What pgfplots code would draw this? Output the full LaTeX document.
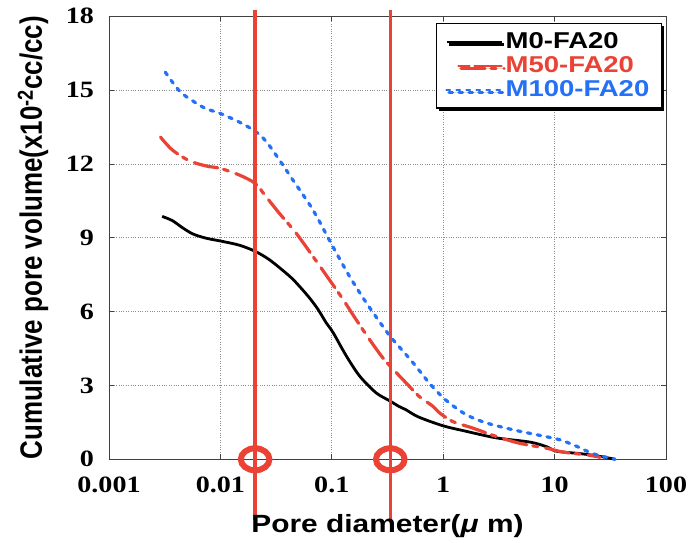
\documentclass[border=0pt]{standalone}
\usepackage{fontspec}
\setmainfont[FakeStretch=1.2]{Liberation Serif}
\newfontfamily\lsans[FakeStretch=1.2]{Liberation Sans}
\newfontfamily\lsansy[FakeStretch=0.84]{Liberation Sans}
\usepackage{pgfplots}
\pgfplotsset{compat=1.18}
\usepackage{pgfplotstable}
\usetikzlibrary{shadows}

\definecolor{cred}{RGB}{234,66,52}
\definecolor{cblue}{RGB}{36,112,246}

% pore diameter (um) vs cumulative pore volume (x10^-2 cc/cc)
\pgfplotstableread{
d v
0.0030 9.87
0.0037 9.70
0.0046 9.40
0.0057 9.15
0.0075 8.98
0.010 8.87
0.0148 8.70
0.0205 8.45
0.0277 8.10
0.0418 7.44
0.051 7.04
0.063 6.56
0.075 6.10
0.089 5.55
0.103 5.14
0.135 4.20
0.178 3.38
0.25 2.70
0.333 2.37
0.40 2.15
0.46 2.02
0.60 1.72
1.0 1.36
1.6 1.14
3.0 0.87
6.0 0.70
8.5 0.51
10.4 0.33
17 0.23
24 0.14
35 0.0
}\mzero

\pgfplotstableread{
d v
0.0029 13.09
0.0037 12.57
0.0052 12.14
0.0074 11.92
0.010 11.82
0.0148 11.55
0.0205 11.21
0.0257 10.67
0.0339 9.99
0.048 9.18
0.0698 8.16
0.095 7.30
0.126 6.50
0.165 5.68
0.218 4.87
0.286 4.13
0.333 3.79
0.463 3.11
0.607 2.56
0.80 2.17
0.92 1.90
1.21 1.54
1.84 1.27
2.99 0.93
4.86 0.65
8.47 0.45
12 0.29
19.5 0.18
25.7 0.08
}\mfifty

\pgfplotstableread{
d v
0.0032 15.73
0.0043 14.96
0.0057 14.55
0.0074 14.25
0.010 14.05
0.0148 13.70
0.0205 13.33
0.0257 12.92
0.0339 12.16
0.0447 11.35
0.0676 10.14
0.102 8.65
0.144 7.44
0.204 6.36
0.286 5.41
0.333 5.00
0.53 3.95
0.75 3.10
1.06 2.40
1.6 1.82
2.43 1.48
4.23 1.20
6.87 1.00
11.2 0.79
15.9 0.52
22.4 0.22
35 0.0
}\mhundred

\begin{document}
\begin{tikzpicture}
\begin{axis}[
  scale only axis, width=557bp, height=443bp,
  xmode=log, xmin=0.001, xmax=100, ymin=0, ymax=18,
  xtick={0.001,0.01,0.1,1,10,100},
  xticklabels={0.001,0.01,0.1,1,10,100},
  ytick={0,3,6,9,12,15,18},
  yticklabels={0,3,6,9,12,15,18},
  xminorticks=false,
  tick align=inside, major tick length=5bp,
  axis line style={black!75, line width=0.8bp},
  tick style={black!75, line width=0.8bp},
  grid=major, grid style={dotted, black!45, line width=0.9bp},
  tick label style={font=\bfseries\fontsize{23.5}{23.5}\selectfont},
  xticklabel style={anchor=base, yshift=-33bp},
  yticklabel style={anchor=east, xshift=-11.5bp},
  xlabel={Pore diameter(\textit{μ} m)},
  ylabel={Cumulative pore volume(x10\textsuperscript{-2}cc/cc)},
  xlabel style={font=\lsans\bfseries\fontsize{25}{25}\selectfont, at={(axis description cs:0.5,-0.1648)}, anchor=base},
  ylabel style={font=\lsansy\bfseries\fontsize{31}{31}\selectfont, at={(axis description cs:-0.1203,0.5)}, anchor=base},
  clip=false,
  legend cell align=left,
  legend image code/.code={\draw[#1, line width=2.3bp] (0bp,0bp) -- (55bp,0bp);},
  legend style={at={(0.9928,0.985)}, anchor=north east, draw=black, line width=1.3bp,
    font=\lsans\bfseries\fontsize{23}{23}\selectfont, inner xsep=9bp, inner ysep=7bp,
    row sep=1.5bp, column sep=0bp,
    nodes={inner xsep=3bp, inner ysep=0.5bp, text height=17bp, text depth=4.5bp},
    drop shadow={shadow xshift=2.5bp, shadow yshift=-2.5bp, fill=black, opacity=1}},
]
\addplot[black, line width=2.8bp, smooth, tension=0.5] table[x=d, y=v] {\mzero};
\addlegendentry{M0-FA20}
\addplot[cred, line width=3.2bp, line cap=round, dash pattern=on 24bp off 6bp on 5bp off 8bp, smooth, tension=0.5,
  legend image code/.code={\draw[cred, line width=2.3bp, dash pattern=on 11bp off 5bp on 27bp off 20bp] (12bp,0bp) -- (55bp,0bp);}]
  table[x=d, y=v] {\mfifty};
\addlegendentry{\textcolor{cred}{M50-FA20}}
\addplot[cblue, line width=3.2bp, line cap=round, dash pattern=on 3.5bp off 6.5bp, smooth, tension=0.5] table[x=d, y=v] {\mhundred};
\addlegendentry{\textcolor{cblue}{M100-FA20}}
% marker lines and circles
\addplot[cred, line width=3.4bp, forget plot] coordinates {(0.0205,-2.48) (0.0205,18.27)};
\addplot[cred, line width=3.4bp, forget plot] coordinates {(0.335,-2.48) (0.335,18.27)};
\addplot[only marks, mark=o, mark size=11bp, cred, mark options={xscale=1.3, line width=6bp}, forget plot] coordinates {(0.0205,0) (0.335,0)};
\end{axis}
\path (current axis.south west) ++(-109bp,-83.7bp) rectangle ++(692bp,543bp);
\end{tikzpicture}
\end{document}
